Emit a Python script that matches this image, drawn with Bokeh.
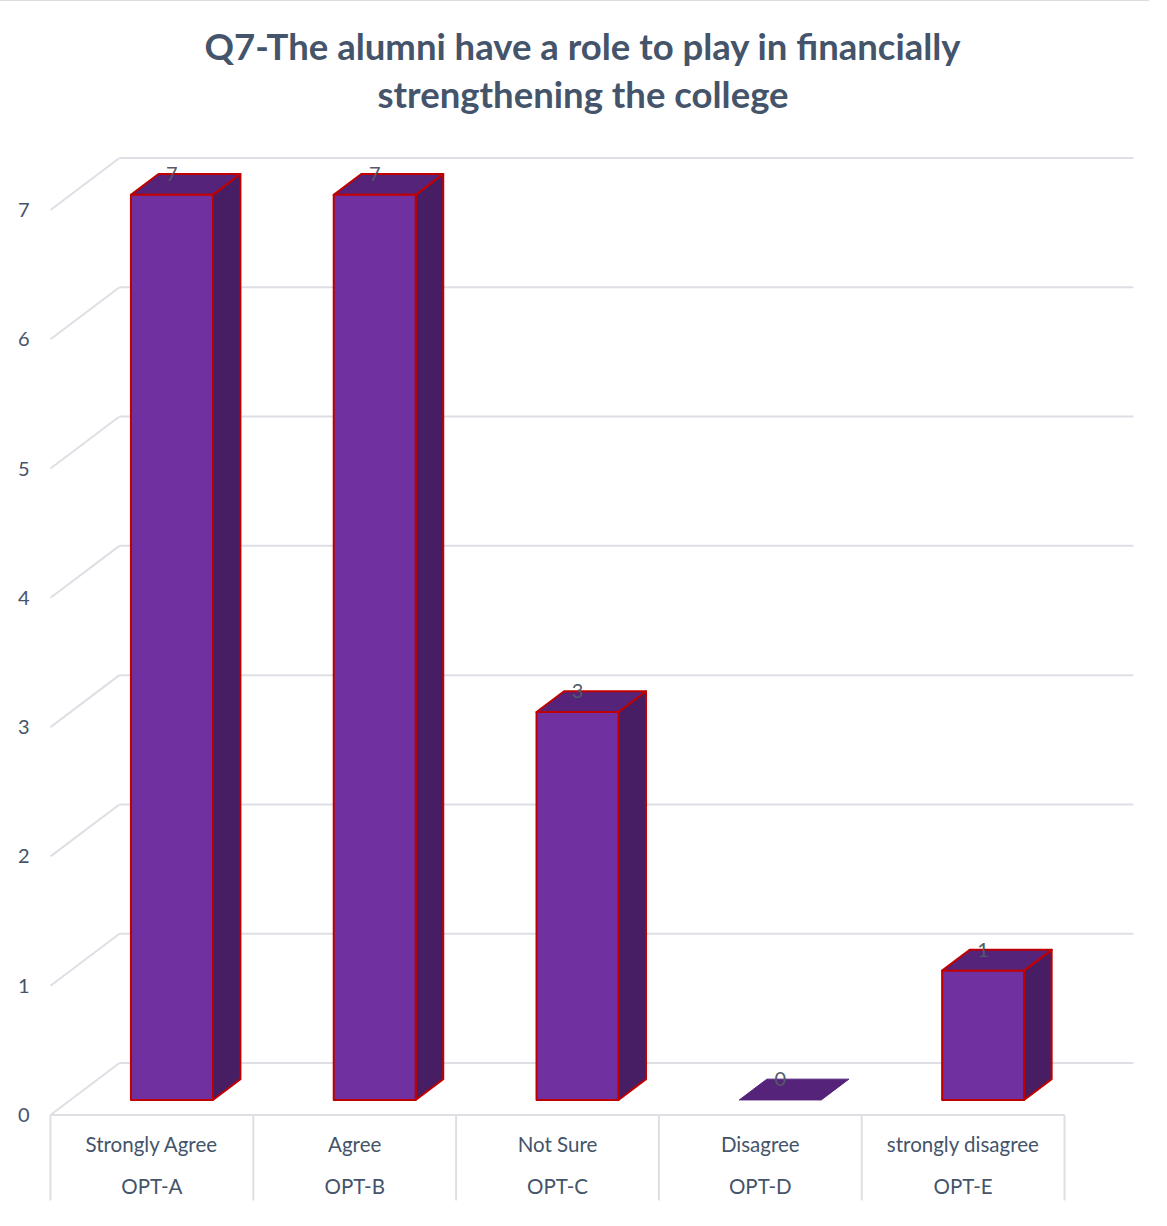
from bokeh.plotting import figure
from bokeh.models import Range1d, FixedTicker, ColumnDataSource, Label
from bokeh.core.properties import value
from bokeh.embed import file_html
from bokeh.resources import INLINE

# ---------------- data ----------------
title_lines = ["Q7-The alumni have a role to play in financially", "strengthening the college"]
options = ["OPT-A", "OPT-B", "OPT-C", "OPT-D", "OPT-E"]
answers = ["Strongly Agree", "Agree", "Not Sure", "Disagree", "strongly disagree"]
counts = [7, 7, 3, 0, 1]
y_ticks = [0, 1, 2, 3, 4, 5, 6, 7]

# ---------------- style / 3D geometry (data units) ----------------
FRONT = "#7030A0"
TOP = "#55237A"
SIDE = "#471D63"
EDGE = "#C00000"
GRID = "#DEDFE5"
TXT = "#44546A"
FONT = "Lato"

DX, DY = 0.340, 0.402          # offset of the back wall
F, B = 0.29, 0.69              # bar front / back depth (fraction of wall depth)
W = 0.202                      # half bar width
n = len(counts)

p = figure(width=1151, height=1210,
           x_range=Range1d(-0.5493, 4.929), y_range=Range1d(-0.7463, 8.612),
           x_axis_location=None, y_axis_location="left",
           output_backend="svg", toolbar_location=None,
           min_border_left=40, min_border_right=0, min_border_top=0, min_border_bottom=0)
p.styles = {"border-left": "2px solid #DCDCDC", "border-top": "2px solid #DCDCDC",
            "margin-left": "-2px", "margin-top": "-1px"}
p.grid.visible = False
p.outline_line_color = None
p.background_fill_color = "white"
p.border_fill_color = "white"

ax = p.yaxis[0]
ax.ticker = FixedTicker(ticks=y_ticks)
ax.axis_line_color = None
ax.major_tick_line_color = None
ax.minor_tick_line_color = None
ax.major_tick_out = 0
ax.major_tick_in = 0
ax.major_label_standoff = 11
ax.major_label_text_font = FONT
ax.major_label_text_font_size = "20px"
ax.major_label_text_color = TXT

# ---------------- gridlines: back wall + left wall diagonals ----------------
x_left = -0.5
x_right = n - 0.5
p.segment(x0=[x_left + DX] * len(y_ticks), y0=[t + DY for t in y_ticks],
          x1=[x_right + DX] * len(y_ticks), y1=[t + DY for t in y_ticks],
          line_color=GRID, line_width=2)
p.segment(x0=[x_left] * len(y_ticks), y0=y_ticks,
          x1=[x_left + DX] * len(y_ticks), y1=[t + DY for t in y_ticks],
          line_color=GRID, line_width=2)
# floor front edge
p.segment(x0=[x_left], y0=[0], x1=[x_right], y1=[0], line_color=GRID, line_width=2)

# ---------------- bars ----------------
ox1, oy1 = F * DX, F * DY
ox2, oy2 = B * DX, B * DY
fr_xs, fr_ys, tp_xs, tp_ys, sd_xs, sd_ys = [], [], [], [], [], []
z_xs, z_ys = [], []
for i, v in enumerate(counts):
    fx0, fx1 = i - W + ox1, i + W + ox1
    bx0, bx1 = i - W + ox2, i + W + ox2
    y0, y1 = oy1, v + oy1
    top_x = [fx0, fx1, bx1, bx0]
    top_y = [y1, y1, v + oy2, v + oy2]
    if v == 0:
        z_xs.append(top_x); z_ys.append(top_y)
        continue
    fr_xs.append([fx0, fx1, fx1, fx0]); fr_ys.append([y0, y0, y1, y1])
    tp_xs.append(top_x); tp_ys.append(top_y)
    sd_xs.append([fx1, bx1, bx1, fx1]); sd_ys.append([y0, oy2, v + oy2, y1])

p.patches(z_xs, z_ys, fill_color=TOP, line_color=TOP, line_width=1)
p.patches(sd_xs, sd_ys, fill_color=SIDE, line_color=EDGE, line_width=2, line_join="round")
p.patches(tp_xs, tp_ys, fill_color=TOP, line_color=EDGE, line_width=2, line_join="round")
p.patches(fr_xs, fr_ys, fill_color=FRONT, line_color=EDGE, line_width=2, line_join="round")

# value labels
vsrc = ColumnDataSource(dict(x=[i + ox1 for i in range(n)],
                             y=[v + oy2 for v in counts],
                             t=[str(v) for v in counts]))
p.text(x="x", y="y", text="t", source=vsrc, text_align="center", text_baseline="middle",
       text_font=value(FONT), text_font_size="20px", text_color="#505A68")

# ---------------- category axis (two levels) ----------------
seps = [x_left + k for k in range(n + 1)]
p.segment(x0=seps, y0=[0] * len(seps), x1=seps, y1=[-0.661] * len(seps),
          line_color=GRID, line_width=2)
csrc = ColumnDataSource(dict(x=list(range(n)), a=answers, o=options,
                             ya=[-0.221] * n, yo=[-0.546] * n))
p.text(x="x", y="ya", text="a", source=csrc, text_align="center", text_baseline="middle",
       text_font=value(FONT), text_font_size="20.5px", text_color=TXT)
p.text(x="x", y="yo", text="o", source=csrc, text_align="center", text_baseline="middle",
       text_font=value(FONT), text_font_size="20.5px", text_color=TXT)

# ---------------- title ----------------
for txt, yy in zip(title_lines, [8.264, 7.90]):
    p.add_layout(Label(x=2.126, y=yy, text=txt, text_align="center", text_baseline="middle",
                       text_font=FONT, text_font_style="bold", text_font_size="36.5px",
                       text_color=TXT))

open("out.html", "w").write(file_html(p, INLINE))
